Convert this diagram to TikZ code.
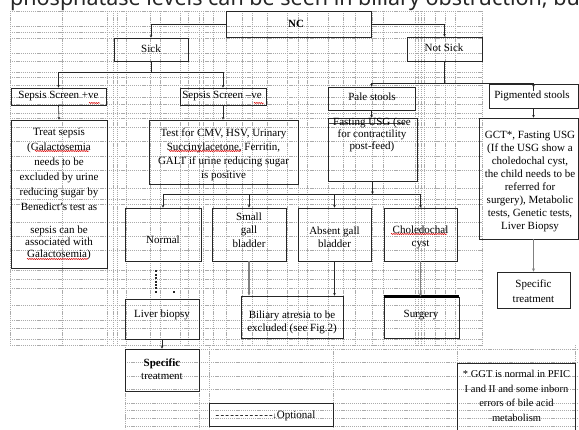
\documentclass[tikz,border=0pt]{standalone}
\usepackage{fontspec}
\setmainfont{Liberation Serif}
\newfontfamily\topfont{Noto Sans}
\usetikzlibrary{arrows.meta,decorations.pathmorphing,calc}
\begin{document}
\begin{tikzpicture}[x=1pt,y=-1pt,
  box/.style={draw=black!85, line width=0.8pt, inner sep=0pt},
  txt/.style={inner sep=0pt, align=center, text=black, font=\fontsize{11}{14}\selectfont},
  plain/.style={draw=black!85, line width=0.6pt},
  conn/.style={draw=black!85, line width=0.6pt, -{Stealth[length=2.6pt,width=2.6pt]}},
  gconn/.style={draw=black!50, line width=1.3pt, -{Stealth[length=3.2pt,width=3pt]}},
  dotconn/.style={draw=black!85, line width=1.7pt, dash pattern=on 2pt off 1.4pt},
  gridline/.style={draw=black!33, line width=0.4pt, dash pattern=on 1.2pt off 0.9pt},
  squig/.style={draw=red!85!black, line width=0.5pt, decorate, decoration={snake, amplitude=0.6pt, segment length=2.2pt}}
]
\useasboundingbox (0,0) rectangle (579,429);
% background table grid
\foreach \x in {10,62,107,113,117,126,150,160,180,188,199,203,213,226,242,252,267,287,298,307,328,343,355,372,383,415,418,421,424,435,445,455,482}
  \draw[gridline] (\x,11) -- (\x,345);
\foreach \y in {11,26,32,38,53,61,72,77,85,97,104,113,118,127,141,156,170,188,199,204,222,236,250,270,279,288,305,320,328,339,345}
  \draw[gridline] (10,\y) -- (482,\y);
\foreach \x in {125,199,209,333,457,575}
  \draw[gridline] (\x,345) -- (\x,429);
\foreach \y in {349,362,376,389,403,410,418,426}
  \draw[gridline] (125,\y) -- (579,\y);

% clipped running text at the top
\node[anchor=base west, inner sep=0pt, text=black!85, font=\topfont\fontsize{21.5}{21.5}\selectfont] (toptext) at (10,5.5) {phosphatase levels can be seen in biliary obstruction, but};

% boxes
\node[box, minimum width=145, minimum height=26] (nc) at (298.5,24) {};
\node[box, minimum width=74, minimum height=23] (sick) at (151,49.5) {};
\node[box, minimum width=75, minimum height=24] (notsick) at (444.5,49) {};
\node[box, minimum width=95, minimum height=17] (spos) at (58.5,96.5) {};
\node[box, minimum width=86, minimum height=17] (sneg) at (223,96.5) {};
\node[box, minimum width=87, minimum height=23] (pale) at (371.5,98.5) {};
\node[box, minimum width=89, minimum height=24] (pig) at (533.5,96) {};
\node[box, minimum width=96, minimum height=148] (treat) at (59,194) {};
\node[box, minimum width=149, minimum height=64] (cmv) at (223.5,152) {};
\node[box, minimum width=89, minimum height=63] (fast) at (372.5,149.5) {};
\node[box, minimum width=99, minimum height=121] (gct) at (528.5,178.5) {};
\node[box, minimum width=76, minimum height=53] (normal) at (163,234.5) {};
\node[box, minimum width=74, minimum height=53] (small) at (249,234.5) {};
\node[box, minimum width=73, minimum height=53] (absent) at (334.5,234.5) {};
\node[box, minimum width=73, minimum height=53] (chol) at (420.5,234.5) {};
\node[box, minimum width=73, minimum height=36] (specR) at (533.5,290) {};
\node[box, minimum width=74, minimum height=40] (liver) at (162,319) {};
\node[box, minimum width=102, minimum height=42] (biliary) at (292,317) {};
\node[box, minimum width=75, minimum height=41] (surgery) at (421.5,317.5) {};
\node[box, minimum width=74, minimum height=42] (specL) at (162,370) {};
\node[box, minimum width=124, minimum height=23] (opt) at (271,414.5) {};
\node[box, minimum width=118, minimum height=77] (ggt) at (516,401.5) {};
\draw[black, line width=2.5pt] (surgery.north west) -- (surgery.north east);
\draw[black!75, line width=0.6pt] (fast.west |- 0,123) -- ++(77,0);

% texts
\node[txt, font=\bfseries\fontsize{11}{14}\selectfont] (nct) at (296,24) {NC};
\node[txt] (sickt) at (151,49) {Sick};
\node[txt] (notsickt) at (444,48) {Not Sick};
\node[txt] (spost) at (58.5,96) {Sepsis Screen +ve};
\node[txt] (snegt) at (222,96) {Sepsis Screen –ve};
\node[txt] (palet) at (372,97) {Pale stools};
\node[txt] (pigt) at (532,96) {Pigmented stools};
\node[txt, font=\fontsize{11}{15}\selectfont] (treatt) at (59,194) {Treat sepsis\\(Galactosemia\\needs to be\\excluded by urine\\reducing sugar by\\Benedict’s test as\\[8pt]sepsis can be\\[-3pt]associated with\\[-3pt]Galactosemia)};
\node[txt] (cmvt) at (223.5,155) {Test for CMV, HSV, Urinary\\Succinylacetone, Ferritin,\\GALT if urine reducing sugar\\is positive};
\node[txt, font=\fontsize{11}{11.8}\selectfont] (fastt) at (372,135) {Fasting USG (see\\for contractility\\post-feed)};
\node[txt, font=\fontsize{11}{13}\selectfont] (gctt) at (530,182) {GCT*, Fasting USG\\(If the USG show a\\choledochal cyst,\\the child needs to be\\referred for\\surgery), Metabolic\\tests, Genetic tests,\\Liver Biopsy};
\node[txt] (normalt) at (163,240) {Normal};
\node[txt, font=\fontsize{11}{13.5}\selectfont] (smallt) at (249,230) {Small\\gall\\bladder};
\node[txt, font=\fontsize{11}{13}\selectfont] (absentt) at (334.5,237) {Absent gall\\bladder};
\node[txt, font=\fontsize{11}{13}\selectfont] (cholt) at (420.5,237) {Choledochal\\cyst};
\node[txt, font=\fontsize{11}{15}\selectfont] (specRt) at (533.5,291) {Specific\\treatment};
\node[txt] (livert) at (162,315) {Liver biopsy};
\node[txt, font=\fontsize{11}{13}\selectfont] (biliaryt) at (292,322) {Biliary atresia to be\\excluded (see Fig.2)};
\node[txt] (surgeryt) at (421,315) {Surgery};
\node[txt, font=\fontsize{11}{13}\selectfont] (specLt) at (162,369) {\textbf{Specific}\\treatment};
\node[txt] (optt) at (265.5,416) {-\kern1.2pt-\kern1.2pt-\kern1.2pt-\kern1.2pt-\kern1.2pt-\kern1.2pt-\kern1.2pt-\kern1.2pt-\kern1.2pt-\kern1.2pt-\kern1.2pt-{}{\fontsize{8}{8}\selectfont↓}Optional};
\node[txt, font=\fontsize{10.5}{14.5}\selectfont] (ggtt) at (516.5,396) {* GGT is normal in PFIC\\I and II and some inborn\\errors of bile acid\\metabolism};

% connectors
\draw[conn] (nc.west) -| (sick.north);
\draw[conn] (nc.east) -| (notsick.north);
\coordinate (sj) at (sick.south |- 0,72);
\draw[plain] (sick.south) -- (sj);
\draw[conn] (sj) -| (spos.north);
\draw[conn] (sj) -| (sneg.north);
\draw[plain] (notsick.south) |- (pig.north);
\coordinate (nj) at (notsick.south |- pig.north);
\draw[conn] (nj) -| (pale.north);
\draw[conn] ([yshift=-7pt]pig.north) -- (pig.north);
\draw[conn] (spos.south) -- (treat.north);
\draw[conn] (sneg.south) -- (sneg.south |- cmv.north);
\draw[conn] (pale.south) -- (pale.south |- fast.north);
\draw[conn] (pig.south) -- (pig.south |- gct.north);
\coordinate (fj) at (fast.south |- 0,194);
\draw[conn] (fast.south) -- (fj);
\draw[plain] (normal.north |- fj) -- (chol.north |- fj);
\draw[conn] (normal.north |- fj) -- (normal.north);
\draw[conn] (small.north |- fj) -- (small.north);
\draw[conn] (absent.north |- fj) -- (absent.north);
\draw[conn] (chol.north |- fj) -- (chol.north);
\draw[gconn] (specR.north |- gct.south) -- (specR.north);
\draw[dotconn] ($(normal.south)+(-7,9)$) -- ($(liver.north)+(-6,-6)$);
\fill[black!85] ($(liver.north)+(11,-8)$) rectangle ++(1.6,2.5);
\draw[gconn] (small.south) -- (small.south |- biliary.north);
\draw[conn] (absent.south) -- (absent.south |- biliary.north);
\draw[gconn] (chol.south) -- (chol.south |- surgery.north);
\draw[conn] (liver.south) -- (specL.north);

% spell-check squiggles
\draw[squig] (89,103) -- (100,103);
\draw[squig] (254,103) -- (264,103);
\draw[squig] (35,151) -- (89,151);
\draw[squig] (169,151) -- (241,151);
\draw[squig] (27,259) -- (88,259);
\draw[squig] (391,234) -- (447,234);
\end{tikzpicture}
\end{document}
